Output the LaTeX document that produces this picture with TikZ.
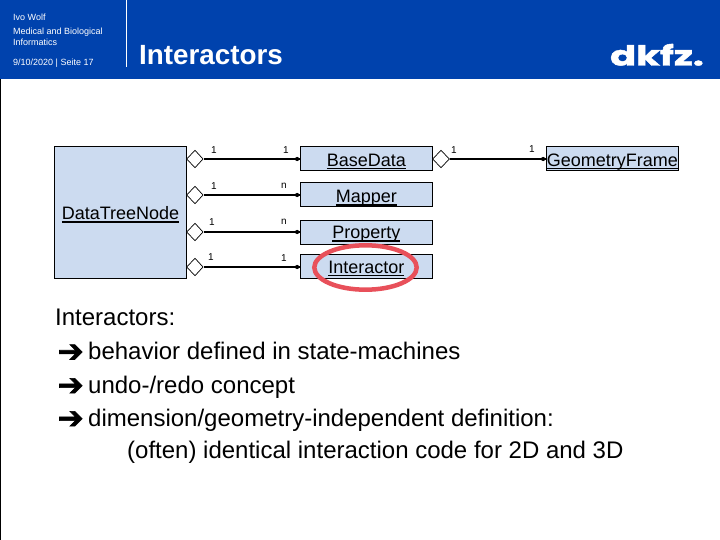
\documentclass[tikz,border=0pt]{standalone}
\usepackage{fontspec}
\usepackage{graphicx}
\setmainfont{Liberation Sans}
\definecolor{hdr}{RGB}{0,66,173}
\definecolor{boxfill}{RGB}{204,219,240}
\definecolor{ringred}{RGB}{232,80,90}
\newfontfamily\wing[FakeBold=2]{DejaVu Sans}
\newfontfamily\logofont[FakeBold=1.5]{Poppins}
\newsavebox{\ulbox}
\newcommand{\ul}[2]{\smash{\raisebox{-#1pt}{\sbox{\ulbox}{#2}\rlap{\rule[-2.6pt]{\wd\ulbox}{1.5pt}}\usebox{\ulbox}}}}
\newcommand{\arw}{\makebox[33pt][l]{\hspace{2.5pt}\raisebox{-2.5pt}{\wing\fontsize{31}{31}\selectfont ➔}}}
\tikzset{
  umlbox/.style={draw=black,line width=1pt,fill=boxfill,inner sep=0pt,minimum width=132.4pt,minimum height=24.2pt,font=\fontsize{18}{18}\selectfont},
  assoc/.style={line width=1.6pt,draw=black},
  diam/.style={draw=black,line width=.7pt,fill=white},
  mult/.style={font=\fontsize{10}{10}\selectfont,inner sep=0pt},
  body/.style={font=\fontsize{24}{24}\selectfont,anchor=base west,inner sep=0pt},
  small/.style={anchor=base west,text=white,inner sep=0pt,font=\fontsize{9}{9}\selectfont}
}
\begin{document}
\begin{tikzpicture}[x=1pt,y=-1pt]
\useasboundingbox (0,0) rectangle (720,540);
\fill[white] (0,0) rectangle (720,540);
\fill[hdr] (0,0) rectangle (720,79);
\draw[black,line width=2pt] (0,79) -- (0,540);
\draw[white,line width=.8pt] (126.5,0) -- (126.5,67);
\node[small] (t1) at (13,21) {Ivo Wolf};
\node[small] (t2) at (13,35) {Medical and Biological};
\node[small] (t3) at (13,46) {Informatics};
\node[small] (t4) at (13,66) {9/10/2020 | Seite 17};
\node[anchor=base west,text=white,inner sep=0pt,font=\bfseries\fontsize{27.8}{27.8}\selectfont] (title) at (139,64.5) {Interactors};
\node[anchor=base east,text=white,inner sep=0pt,font=\logofont\bfseries\fontsize{27.5}{27.5}\selectfont] (logo) at (704,65.5) {\scalebox{1.4}[1]{dkfz.}};
\node[umlbox,minimum width=132.4pt,minimum height=131.6pt] (dtn) at (120.5,212.5) {\ul{7.5}{DataTreeNode}};
\node[umlbox] (base) at (366.3,158.7) {\ul{7.8}{BaseData}};
\node[umlbox] (mapper) at (366.3,194.5) {\ul{8.5}{Mapper}};
\node[umlbox] (prop) at (366.3,232.5) {\ul{6.5}{Property}};
\node[umlbox] (inter) at (366.3,266.5) {\ul{7}{Interactor}};
\node[umlbox] (geom) at (612.3,158.7) {\ul{7.8}{GeometryFrame}};
\foreach \n/\yy in {a/159,b/195,c/232,d/267}{
  \draw[diam] (186.7,\yy) -- (195,\yy-8.7) -- (203,\yy) -- (195,\yy+8.7) -- cycle;
  \coordinate (s\n) at (204,\yy);
}
\draw[diam] (432.7,159) -- (441,150.3) -- (449.3,159) -- (441,167.7) -- cycle;
\coordinate (se) at (450,159);
\coordinate (ea) at (base.west |- 0,159);
\coordinate (eb) at (mapper.west |- 0,195);
\coordinate (ec) at (prop.west |- 0,232);
\coordinate (ed) at (inter.west |- 0,267);
\coordinate (ee) at (geom.west |- 0,159);
\foreach \p/\q in {sa/ea,sb/eb,sc/ec,sd/ed,se/ee}{
  \draw[assoc] (\p) -- (\q);
  \fill (\q) ++(-2.5,0) circle (2.1pt);
}
\node[mult] (m1) at (214,150) {1};
\node[mult] (m2) at (286,150) {1};
\node[mult] (m3) at (214,186) {1};
\node[mult] (m4) at (284,186) {n};
\node[mult] (m5) at (212,222) {1};
\node[mult] (m6) at (284,222) {n};
\node[mult] (m7) at (211,257) {1};
\node[mult] (m8) at (284,258) {1};
\node[mult] (m9) at (454,150) {1};
\node[mult] (m10) at (532,149) {1};
\draw[ringred,line width=4.5pt] (365.5,267.5) ellipse (51.2pt and 22.2pt);
\node[body] (l1) at (55,325) {Interactors:};
\node[body] (l2) at (55,359.3) {\arw behavior defined in state-machines};
\node[body] (l3) at (55,393) {\arw undo-/redo concept};
\node[body] (l4) at (55,426) {\arw dimension/geometry-independent definition:};
\node[body] (l5) at (127,458) {(often) identical interaction code for 2D and 3D};
\end{tikzpicture}
\end{document}
